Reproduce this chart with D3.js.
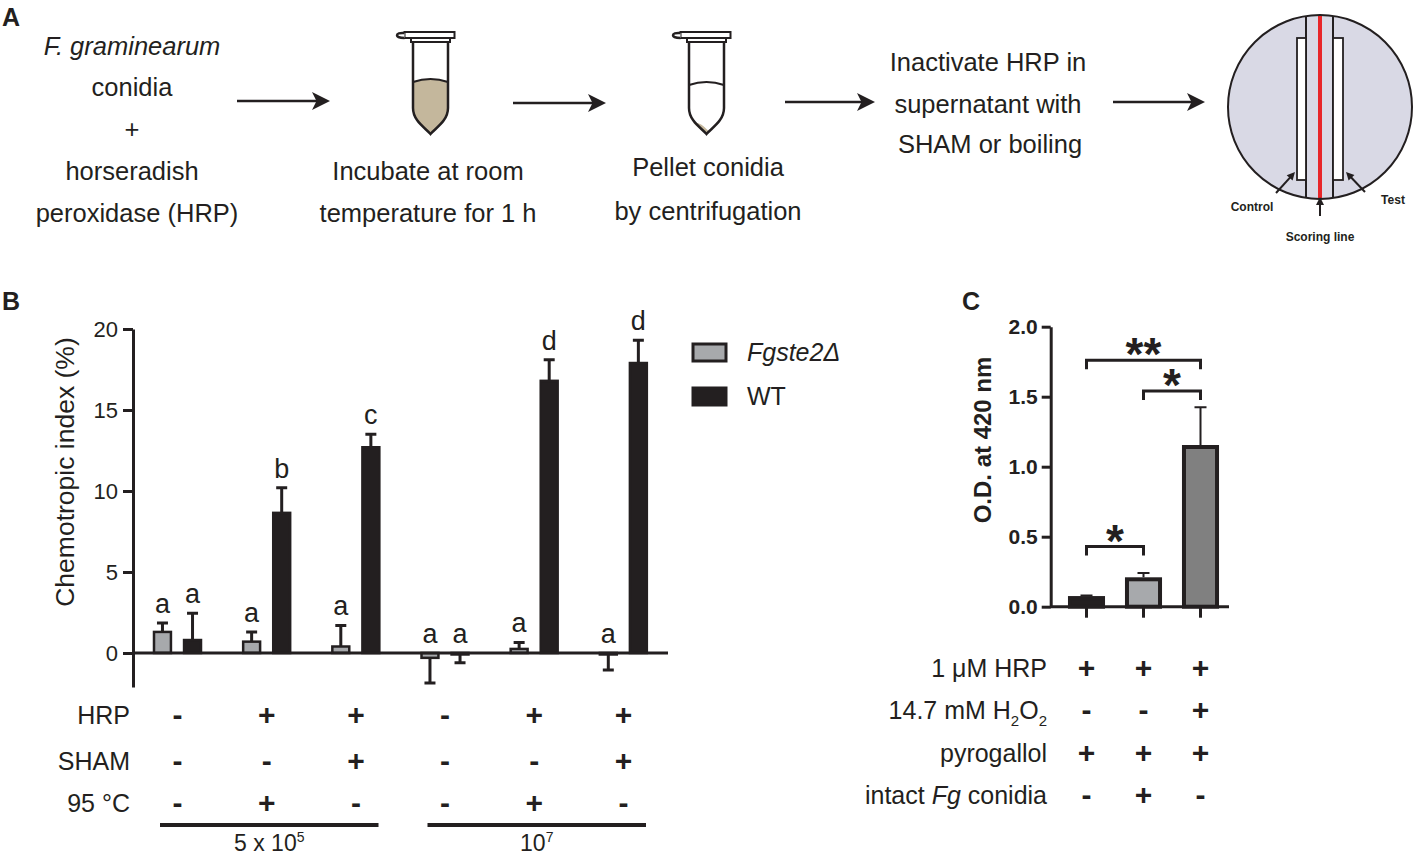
<!DOCTYPE html>
<html>
<head>
<meta charset="utf-8">
<script src="https://cdn.jsdelivr.net/npm/d3@7"></script>
<style>
body { margin: 0; background: #fff; }
text { font-family: "Liberation Sans", Arial, sans-serif; fill: #231f20; }
</style>
</head>
<body>
<svg width="1417" height="859"></svg>
<script>
// ---- panel B data ----
var conditions = ["5e5 none", "5e5 HRP 95C", "5e5 HRP SHAM", "1e7 none", "1e7 HRP 95C", "1e7 HRP SHAM"];
var series = ["Fgste2", "WT"];
var mutantMean = [1.3, 0.7, 0.4, -0.3, 0.25, -0.05];
var mutantErr = [0.55, 0.6, 1.3, 1.55, 0.4, 1.0];
var wtMean = [0.8, 8.65, 12.7, -0.05, 16.8, 17.9];
var wtErr = [1.65, 1.55, 0.8, 0.55, 1.3, 1.4];
var mutantLetters = ["a", "a", "a", "a", "a", "a"];
var wtLetters = ["a", "b", "c", "a", "d", "d"];
var hrpRow = ["-", "+", "+", "-", "+", "+"];
var shamRow = ["-", "-", "+", "-", "-", "+"];
var heatRow = ["-", "+", "-", "-", "+", "-"];
var conidiaGroups = [["5 x 10", "5", 0, 2], ["10", "7", 3, 5]];
var yTicksB = [0, 5, 10, 15, 20];

// ---- panel C data ----
var treatments = ["no H2O2", "conidia", "H2O2"];
var odMean = [0.076, 0.21, 1.155];
var odErr = [0.004, 0.03, 0.27];
var hrpC = ["+", "+", "+"];
var h2o2C = ["-", "-", "+"];
var pyroC = ["+", "+", "+"];
var intactC = ["-", "+", "-"];
var yTicksC = [0, 0.5, 1, 1.5, 2];
// [from, to, level (O.D.), label]
var brackets = [[0, 2, 1.76, "**"], [1, 2, 1.54, "*"], [0, 1, 0.43, "*"]];

var ink = "#231f20";
var grayB = "#a7a9ac";
var fillC = ["#231f20", "#a7a9ac", "#808080"];

var svg = d3.select("svg");

// panel letters
[["A", 2, 26], ["B", 2, 310], ["C", 962, 310]].forEach(function (p) {
  svg.append("text").attr("x", p[1]).attr("y", p[2])
    .style("font-size", "25px").style("font-weight", "bold").text(p[0]);
});

// ================= PANEL A (schematic) =================
var gA = svg.append("g");

function centerText(g, x, y, str, opts) {
  var t = g.append("text").attr("x", x).attr("y", y).attr("text-anchor", "middle")
    .style("font-size", (opts && opts.size) || "25.5px");
  if (opts && opts.italic) t.style("font-style", "italic");
  if (opts && opts.bold) t.style("font-weight", "bold");
  t.text(str);
  return t;
}

centerText(gA, 132, 55, "F. graminearum", {italic: true});
centerText(gA, 132, 96, "conidia");
centerText(gA, 132, 138, "+");
centerText(gA, 132, 180, "horseradish");
centerText(gA, 137, 222, "peroxidase (HRP)");
centerText(gA, 428, 180, "Incubate at room");
centerText(gA, 428, 222, "temperature for 1 h");
centerText(gA, 708, 176, "Pellet conidia");
centerText(gA, 708, 220, "by centrifugation");
centerText(gA, 988, 71, "Inactivate HRP in");
centerText(gA, 988, 113, "supernatant with");
centerText(gA, 990, 153, "SHAM or boiling");

function arrow(g, x1, x2, y, w, head) {
  g.append("line").attr("x1", x1).attr("x2", x2 - head * 0.6).attr("y1", y).attr("y2", y)
    .attr("stroke", ink).attr("stroke-width", w);
  g.append("path")
    .attr("d", "M" + x2 + "," + y + " L" + (x2 - head) + "," + (y - head * 0.5) +
      " L" + (x2 - head * 0.75) + "," + y + " L" + (x2 - head) + "," + (y + head * 0.5) + " Z")
    .attr("fill", ink);
}
[[237, 330, 101], [513, 606, 103], [785, 875, 102], [1113, 1205, 102]].forEach(function (a) {
  arrow(gA, a[0], a[1], a[2], 2.5, 18);
});

function tube(g, cx, level, full) {
  var l = cx - 17.5, r = cx + 17.5;
  var body = "M" + l + ",42 L" + l + ",108 C" + l + ",121 " + (cx - 5) + ",128 " + cx + ",134 C" +
    (cx + 5) + ",128 " + r + ",121 " + r + ",108 L" + r + ",42";
  if (full) {
    g.append("path")
      .attr("d", "M" + l + "," + (level + 2) + " Q" + cx + "," + (level - 4) + " " + r + "," + (level + 2) +
        " L" + r + ",108 C" + r + ",121 " + (cx + 5) + ",128 " + cx + ",134 C" + (cx - 5) + ",128 " + l + ",121 " + l + ",108 Z")
      .attr("fill", "#c4b79c");
  } else {
    g.append("path")
      .attr("d", "M" + (cx - 13) + ",123 Q" + (cx - 7) + ",121 " + (cx + 2) + ",131 L" + cx + ",134 C" + (cx - 5) + ",130 " + (cx - 10) + ",127 " + (cx - 13) + ",123 Z")
      .attr("fill", "#c4b79c");
  }
  g.append("path")
    .attr("d", "M" + l + "," + (level + 2) + " Q" + cx + "," + (level - 4) + " " + r + "," + (level + 2))
    .attr("fill", "none").attr("stroke", ink).attr("stroke-width", 2);
  g.append("path").attr("d", body).attr("fill", "none").attr("stroke", ink).attr("stroke-width", 2.5);
  g.append("rect").attr("x", cx - 19.5).attr("y", 38).attr("width", 39).attr("height", 4)
    .attr("fill", "#fff").attr("stroke", ink).attr("stroke-width", 2);
  g.append("rect").attr("x", cx - 26).attr("y", 32).attr("width", 50).attr("height", 6)
    .attr("fill", "#fff").attr("stroke", ink).attr("stroke-width", 2);
  g.append("path")
    .attr("d", "M" + (cx - 26) + ",33 C" + (cx - 36) + ",32 " + (cx - 36) + ",38 " + (cx - 26) + ",38")
    .attr("fill", "#fff").attr("stroke", ink).attr("stroke-width", 2.5);
}
tube(gA, 430.5, 80, true);
tube(gA, 706.5, 83, false);

// plate
var pc = {x: 1320, y: 107, r: 92};
svg.append("clipPath").attr("id", "plate").append("circle")
  .attr("cx", pc.x).attr("cy", pc.y).attr("r", pc.r);
gA.append("circle").attr("cx", pc.x).attr("cy", pc.y).attr("r", pc.r).attr("fill", "#d9d9e5");
var gp = gA.append("g").attr("clip-path", "url(#plate)");
[1306, 1333].forEach(function (x) {
  gp.append("line").attr("x1", x).attr("x2", x).attr("y1", 0).attr("y2", 220)
    .attr("stroke", ink).attr("stroke-width", 2);
});
gp.append("line").attr("x1", 1320).attr("x2", 1320).attr("y1", 0).attr("y2", 220)
  .attr("stroke", "#e8262a").attr("stroke-width", 4);
[[1297, 1306], [1333, 1343]].forEach(function (r) {
  gA.append("rect").attr("x", r[0]).attr("y", 38).attr("width", r[1] - r[0]).attr("height", 142)
    .attr("fill", "#fff").attr("stroke", ink).attr("stroke-width", 1.8);
});
gA.append("circle").attr("cx", pc.x).attr("cy", pc.y).attr("r", pc.r)
  .attr("fill", "none").attr("stroke", ink).attr("stroke-width", 2);

function smallArrow(g, x1, y1, x2, y2) {
  var ang = Math.atan2(y2 - y1, x2 - x1), h = 8;
  g.append("line").attr("x1", x1).attr("y1", y1)
    .attr("x2", x2 - Math.cos(ang) * h * 0.6).attr("y2", y2 - Math.sin(ang) * h * 0.6)
    .attr("stroke", ink).attr("stroke-width", 2);
  var p = [[x2, y2],
    [x2 - h * Math.cos(ang) + h * 0.5 * Math.sin(ang), y2 - h * Math.sin(ang) - h * 0.5 * Math.cos(ang)],
    [x2 - h * Math.cos(ang) - h * 0.5 * Math.sin(ang), y2 - h * Math.sin(ang) + h * 0.5 * Math.cos(ang)]];
  g.append("path").attr("d", "M" + p.join("L") + "Z").attr("fill", ink);
}
smallArrow(gA, 1276, 193, 1295, 172);
smallArrow(gA, 1365, 192, 1346, 172);
smallArrow(gA, 1320, 216, 1320, 197);
centerText(gA, 1252, 211, "Control", {size: "12px", bold: true});
centerText(gA, 1393, 204, "Test", {size: "12px", bold: true});
centerText(gA, 1320, 241, "Scoring line", {size: "12px", bold: true});

// ================= PANEL B =================
var gB = svg.append("g");
var x0 = d3.scaleBand().domain(conditions).range([133, 668]);
var x1 = d3.scaleBand().domain(series).range([20, 69]).paddingInner(0.37);
var yB = d3.scaleLinear().domain([-2.1, 20]).range([687, 329]);

var rowsB = [];
conditions.forEach(function (c, i) {
  rowsB.push({c: c, s: series[0], v: mutantMean[i], e: mutantErr[i], l: mutantLetters[i]});
  rowsB.push({c: c, s: series[1], v: wtMean[i], e: wtErr[i], l: wtLetters[i]});
});

var axB = gB.append("g").attr("transform", "translate(133,0)")
  .call(d3.axisLeft(yB).tickValues(yTicksB).tickSize(10).tickSizeOuter(0).tickPadding(5));
axB.select(".domain").attr("stroke", ink).attr("stroke-width", 3);
axB.selectAll(".tick line").attr("stroke", ink).attr("stroke-width", 3);
axB.selectAll(".tick text").style("font-size", "22px").attr("fill", ink)
  .style("font-family", "Liberation Sans, Arial, sans-serif");

gB.append("text")
  .attr("transform", "translate(74,472) rotate(-90)").attr("text-anchor", "middle")
  .style("font-size", "26.5px").text("Chemotropic index (%)");

// error bars (behind bars)
gB.selectAll(".errB").data(rowsB).enter().append("path")
  .attr("d", function (d) {
    var cx = x0(d.c) + x1(d.s) + x1.bandwidth() / 2;
    var end = d.v >= 0 ? d.v + d.e : d.v - d.e;
    return "M" + cx + "," + yB(d.v) + " V" + yB(end) + " M" + (cx - 5.5) + "," + yB(end) + " H" + (cx + 5.5);
  })
  .attr("stroke", ink).attr("stroke-width", 3).attr("fill", "none");

gB.selectAll(".barB").data(rowsB).enter().append("rect")
  .attr("x", function (d) { return x0(d.c) + x1(d.s) + 1; })
  .attr("width", x1.bandwidth() - 2)
  .attr("y", function (d) { return yB(Math.max(0, d.v)); })
  .attr("height", function (d) { return Math.max(1.5, Math.abs(yB(d.v) - yB(0))); })
  .attr("fill", function (d) { return d.s === series[0] ? grayB : ink; })
  .attr("stroke", ink).attr("stroke-width", 2.5);

gB.append("line").attr("x1", 133).attr("x2", 668).attr("y1", yB(0)).attr("y2", yB(0))
  .attr("stroke", ink).attr("stroke-width", 3);

gB.selectAll(".letterB").data(rowsB).enter().append("text")
  .attr("x", function (d) { return x0(d.c) + x1(d.s) + x1.bandwidth() / 2; })
  .attr("y", function (d) { return yB(d.v > 0 ? d.v + d.e : 0) - 10; })
  .attr("text-anchor", "middle").style("font-size", "27px")
  .text(function (d) { return d.l; });

// legend
[[series[0], grayB, 352, "Fgste2Δ", true], [series[1], ink, 396, "WT", false]].forEach(function (l) {
  gB.append("rect").attr("x", 693).attr("y", l[2] - 8).attr("width", 33).attr("height", 17)
    .attr("fill", l[1]).attr("stroke", ink).attr("stroke-width", 3);
  gB.append("text").attr("x", 747).attr("y", l[2] + 9).style("font-size", "25px")
    .style("font-style", l[4] ? "italic" : "normal").text(l[3]);
});

// condition table
[["HRP", hrpRow, 715], ["SHAM", shamRow, 761], ["95 °C", heatRow, 803]].forEach(function (row) {
  gB.append("text").attr("x", 130).attr("y", row[2] + 9).attr("text-anchor", "end")
    .style("font-size", "25px").text(row[0]);
  gB.selectAll(null).data(row[1]).enter().append("text")
    .attr("x", function (d, i) { return x0(conditions[i]) + x0.bandwidth() / 2; })
    .attr("y", row[2] + 10).attr("text-anchor", "middle").style("font-size", "30px")
    .style("font-weight", "bold")
    .text(function (d) { return d; });
});
conidiaGroups.forEach(function (g) {
  var xa = x0(conditions[g[2]]) + 27, xb = x0(conditions[g[3]]) + x0.bandwidth() - 22;
  gB.append("line").attr("x1", xa).attr("x2", xb).attr("y1", 825).attr("y2", 825)
    .attr("stroke", ink).attr("stroke-width", 4);
  var t = gB.append("text").attr("x", (xa + xb) / 2).attr("y", 851).attr("text-anchor", "middle")
    .style("font-size", "23px");
  t.append("tspan").text(g[0]);
  t.append("tspan").attr("dy", -9).style("font-size", "14px").text(g[1]);
});

// ================= PANEL C =================
var gC = svg.append("g");
var xC = d3.scaleBand().domain(treatments).range([1058, 1229]).paddingInner(0.35).paddingOuter(0.175);
var yC = d3.scaleLinear().domain([0, 2]).range([606.7, 326.7]);

var axC = gC.append("g").attr("transform", "translate(1050.7,0)")
  .call(d3.axisLeft(yC).tickValues(yTicksC).tickFormat(d3.format(".1f")).tickSize(9).tickSizeOuter(0).tickPadding(4));
axC.select(".domain").attr("stroke", ink).attr("stroke-width", 3);
axC.selectAll(".tick line").attr("stroke", ink).attr("stroke-width", 3);
axC.selectAll(".tick text").style("font-size", "21px").style("font-weight", "bold").attr("fill", ink)
  .style("font-family", "Liberation Sans, Arial, sans-serif");

gC.append("text")
  .attr("transform", "translate(991,440) rotate(-90)").attr("text-anchor", "middle")
  .style("font-size", "24px").style("font-weight", "bold").text("O.D. at 420 nm");

var rowsC = treatments.map(function (t, i) { return {t: t, v: odMean[i], e: odErr[i], f: fillC[i]}; });

gC.selectAll(".errC").data(rowsC).enter().append("path")
  .attr("d", function (d) {
    var cx = xC(d.t) + xC.bandwidth() / 2;
    return "M" + cx + "," + yC(d.v) + " V" + yC(d.v + d.e) + " M" + (cx - 6) + "," + yC(d.v + d.e) + " H" + (cx + 6);
  })
  .attr("stroke", ink).attr("stroke-width", 2).attr("fill", "none");

gC.selectAll(".barC").data(rowsC).enter().append("rect")
  .attr("x", function (d) { return xC(d.t) + 2; })
  .attr("width", xC.bandwidth() - 4)
  .attr("y", function (d) { return yC(d.v) + 2; })
  .attr("height", function (d) { return Math.max(0, yC(0) - yC(d.v) - 2); })
  .attr("fill", function (d) { return d.f; })
  .attr("stroke", ink).attr("stroke-width", 4);

gC.append("line").attr("x1", 1050).attr("x2", 1229).attr("y1", yC(0)).attr("y2", yC(0))
  .attr("stroke", ink).attr("stroke-width", 3);
gC.selectAll(".catTick").data(treatments).enter().append("line")
  .attr("x1", function (d) { return xC(d) + xC.bandwidth() / 2; })
  .attr("x2", function (d) { return xC(d) + xC.bandwidth() / 2; })
  .attr("y1", yC(0)).attr("y2", yC(0) + 11)
  .attr("stroke", ink).attr("stroke-width", 3);

brackets.forEach(function (b) {
  var xa = xC(treatments[b[0]]) + xC.bandwidth() / 2, xb = xC(treatments[b[1]]) + xC.bandwidth() / 2;
  var yy = yC(b[2]);
  gC.append("path").attr("d", "M" + xa + "," + (yy + 9) + " V" + yy + " H" + xb + " V" + (yy + 9))
    .attr("fill", "none").attr("stroke", ink).attr("stroke-width", 3);
  gC.append("text").attr("x", (xa + xb) / 2).attr("y", yy + 10).attr("text-anchor", "middle")
    .style("font-size", "46px").style("font-weight", "bold").text(b[3]);
});

[["1 μM HRP", hrpC, 668], ["H2O2", h2o2C, 710], ["pyrogallol", pyroC, 753], ["intact", intactC, 795]].forEach(function (row) {
  var t = gC.append("text").attr("x", 1047).attr("y", row[2] + 9).attr("text-anchor", "end")
    .style("font-size", "25px");
  if (row[0] === "H2O2") {
    t.append("tspan").text("14.7 mM H");
    t.append("tspan").attr("dy", 7).style("font-size", "15px").text("2");
    t.append("tspan").attr("dy", -7).text("O");
    t.append("tspan").attr("dy", 7).style("font-size", "15px").text("2");
  } else if (row[0] === "intact") {
    t.append("tspan").text("intact ");
    t.append("tspan").style("font-style", "italic").text("Fg");
    t.append("tspan").text(" conidia");
  } else {
    t.text(row[0]);
  }
  gC.selectAll(null).data(row[1]).enter().append("text")
    .attr("x", function (d, i) { return xC(treatments[i]) + xC.bandwidth() / 2; })
    .attr("y", row[2] + 10).attr("text-anchor", "middle").style("font-size", "30px")
    .style("font-weight", "bold")
    .text(function (d) { return d; });
});
</script>
</body>
</html>
